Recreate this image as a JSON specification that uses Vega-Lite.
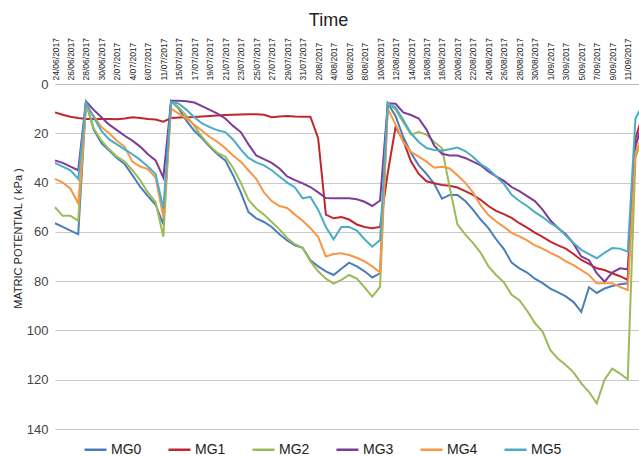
{
  "$schema": "https://vega.github.io/schema/vega-lite/v6.json",
  "width": 587,
  "height": 345,
  "autosize": {"type": "none"},
  "padding": {"left": 52, "top": 84, "right": 0, "bottom": 27},
  "background": "white",
  "config": {"view": {"stroke": null}, "font": "Liberation Sans"},
  "data": {"values": [
    {"date": "24/06/2017", "MG0": 56.5, "MG1": 11.5, "MG2": 50, "MG3": 31, "MG4": 38.5, "MG5": 32},
    {"date": "25/06/2017", "MG0": 58, "MG1": 12.5, "MG2": 53.5, "MG3": 32, "MG4": 40, "MG5": 33.5},
    {"date": "26/06/2017", "MG0": 59.5, "MG1": 13.3, "MG2": 53.5, "MG3": 33.5, "MG4": 42.5, "MG5": 35},
    {"date": "27/06/2017", "MG0": 61, "MG1": 13.8, "MG2": 55.5, "MG3": 35, "MG4": 48.5, "MG5": 38.5},
    {"date": "28/06/2017", "MG0": 7.6, "MG1": 14.2, "MG2": 7.6, "MG3": 7, "MG4": 9, "MG5": 7.5},
    {"date": "29/06/2017", "MG0": 18.5, "MG1": 14.2, "MG2": 18, "MG3": 10.5, "MG4": 13, "MG5": 13.5},
    {"date": "30/06/2017", "MG0": 24, "MG1": 14.2, "MG2": 23, "MG3": 13.5, "MG4": 17.5, "MG5": 19},
    {"date": "1/07/2017", "MG0": 27, "MG1": 14.2, "MG2": 26.5, "MG3": 16.5, "MG4": 20, "MG5": 22.5},
    {"date": "2/07/2017", "MG0": 30, "MG1": 14.3, "MG2": 29.5, "MG3": 18.7, "MG4": 23, "MG5": 24.5},
    {"date": "3/07/2017", "MG0": 32.5, "MG1": 14, "MG2": 31.5, "MG3": 21, "MG4": 25.5, "MG5": 26.5},
    {"date": "4/07/2017", "MG0": 37, "MG1": 13.5, "MG2": 35, "MG3": 23, "MG4": 31.5, "MG5": 28.5},
    {"date": "5/07/2017", "MG0": 41.7, "MG1": 13.8, "MG2": 39, "MG3": 25.4, "MG4": 33.5, "MG5": 30.8},
    {"date": "6/07/2017", "MG0": 45.5, "MG1": 14.2, "MG2": 44, "MG3": 28.5, "MG4": 34.5, "MG5": 33.5},
    {"date": "8/07/2017", "MG0": 49, "MG1": 14.4, "MG2": 48, "MG3": 31, "MG4": 38, "MG5": 36.5},
    {"date": "11/07/2017", "MG0": 57, "MG1": 15.3, "MG2": 62, "MG3": 38, "MG4": 54, "MG5": 50.5},
    {"date": "13/07/2017", "MG0": 7, "MG1": 13.8, "MG2": 7, "MG3": 6.8, "MG4": 10, "MG5": 7.2},
    {"date": "15/07/2017", "MG0": 10, "MG1": 13.6, "MG2": 9.5, "MG3": 6.8, "MG4": 12, "MG5": 8},
    {"date": "16/07/2017", "MG0": 15, "MG1": 13.5, "MG2": 13, "MG3": 7, "MG4": 14, "MG5": 10.5},
    {"date": "17/07/2017", "MG0": 19, "MG1": 13.4, "MG2": 17, "MG3": 7.5, "MG4": 16.5, "MG5": 13.5},
    {"date": "18/07/2017", "MG0": 22, "MG1": 13.2, "MG2": 21.5, "MG3": 9, "MG4": 19, "MG5": 16},
    {"date": "19/07/2017", "MG0": 25.5, "MG1": 13, "MG2": 25, "MG3": 10.5, "MG4": 21.5, "MG5": 17.5},
    {"date": "20/07/2017", "MG0": 28.5, "MG1": 12.8, "MG2": 28, "MG3": 12, "MG4": 23.5, "MG5": 18.8},
    {"date": "21/07/2017", "MG0": 31, "MG1": 12.6, "MG2": 29.5, "MG3": 14, "MG4": 26, "MG5": 19.5},
    {"date": "22/07/2017", "MG0": 37, "MG1": 12.5, "MG2": 34, "MG3": 17, "MG4": 29, "MG5": 22.5},
    {"date": "23/07/2017", "MG0": 44, "MG1": 12.4, "MG2": 40, "MG3": 19.5, "MG4": 31.5, "MG5": 26.5},
    {"date": "24/07/2017", "MG0": 52, "MG1": 12.3, "MG2": 47, "MG3": 24.5, "MG4": 35, "MG5": 30},
    {"date": "25/07/2017", "MG0": 54.5, "MG1": 12.3, "MG2": 50.5, "MG3": 29, "MG4": 38.5, "MG5": 31.8},
    {"date": "26/07/2017", "MG0": 56, "MG1": 12.5, "MG2": 53, "MG3": 30.5, "MG4": 44, "MG5": 33},
    {"date": "27/07/2017", "MG0": 58, "MG1": 13.5, "MG2": 56, "MG3": 32, "MG4": 47.5, "MG5": 35},
    {"date": "28/07/2017", "MG0": 61, "MG1": 13.2, "MG2": 59, "MG3": 34.3, "MG4": 49.5, "MG5": 37.5},
    {"date": "29/07/2017", "MG0": 63.5, "MG1": 13, "MG2": 62.5, "MG3": 37.5, "MG4": 50.3, "MG5": 40},
    {"date": "30/07/2017", "MG0": 65.5, "MG1": 13.2, "MG2": 65, "MG3": 39, "MG4": 53, "MG5": 42},
    {"date": "31/07/2017", "MG0": 66.5, "MG1": 13.3, "MG2": 66.5, "MG3": 40.3, "MG4": 55.5, "MG5": 46.4},
    {"date": "1/08/2017", "MG0": 71.5, "MG1": 13.3, "MG2": 72, "MG3": 41.8, "MG4": 58.5, "MG5": 45.8},
    {"date": "2/08/2017", "MG0": 74, "MG1": 22, "MG2": 76, "MG3": 44, "MG4": 62, "MG5": 51},
    {"date": "3/08/2017", "MG0": 76, "MG1": 53, "MG2": 79, "MG3": 46.3, "MG4": 70, "MG5": 58},
    {"date": "4/08/2017", "MG0": 77.5, "MG1": 54.5, "MG2": 81, "MG3": 46.4, "MG4": 69, "MG5": 63},
    {"date": "5/08/2017", "MG0": 75, "MG1": 54, "MG2": 79.5, "MG3": 46.4, "MG4": 68.7, "MG5": 58},
    {"date": "6/08/2017", "MG0": 72.5, "MG1": 55, "MG2": 77.5, "MG3": 46.4, "MG4": 69.4, "MG5": 58},
    {"date": "7/08/2017", "MG0": 74, "MG1": 57, "MG2": 79, "MG3": 46.8, "MG4": 70.5, "MG5": 59.5},
    {"date": "8/08/2017", "MG0": 76, "MG1": 58, "MG2": 82.5, "MG3": 47.8, "MG4": 72, "MG5": 63},
    {"date": "9/08/2017", "MG0": 78.5, "MG1": 58.5, "MG2": 86.3, "MG3": 49.5, "MG4": 74, "MG5": 66},
    {"date": "10/08/2017", "MG0": 76.8, "MG1": 58, "MG2": 82.3, "MG3": 47.3, "MG4": 76.5, "MG5": 63.3},
    {"date": "11/08/2017", "MG0": 7.8, "MG1": 36, "MG2": 7.8, "MG3": 7.8, "MG4": 10, "MG5": 7.8},
    {"date": "12/08/2017", "MG0": 13, "MG1": 17.5, "MG2": 10.3, "MG3": 8, "MG4": 16.5, "MG5": 9.5},
    {"date": "13/08/2017", "MG0": 21.5, "MG1": 23, "MG2": 15.5, "MG3": 11.5, "MG4": 23.5, "MG5": 14.6},
    {"date": "14/08/2017", "MG0": 28, "MG1": 31.5, "MG2": 20.5, "MG3": 12.6, "MG4": 27.5, "MG5": 20},
    {"date": "15/08/2017", "MG0": 33, "MG1": 36.5, "MG2": 19.5, "MG3": 14, "MG4": 29.5, "MG5": 23.5},
    {"date": "16/08/2017", "MG0": 36.5, "MG1": 39.5, "MG2": 20.5, "MG3": 18.5, "MG4": 31.5, "MG5": 26},
    {"date": "17/08/2017", "MG0": 40.5, "MG1": 40.3, "MG2": 23.5, "MG3": 25, "MG4": 34, "MG5": 26.8},
    {"date": "18/08/2017", "MG0": 46.5, "MG1": 41, "MG2": 26, "MG3": 28.3, "MG4": 33.6, "MG5": 27},
    {"date": "19/08/2017", "MG0": 45, "MG1": 41.3, "MG2": 42, "MG3": 29, "MG4": 34.3, "MG5": 26.5},
    {"date": "20/08/2017", "MG0": 45, "MG1": 42, "MG2": 57, "MG3": 29, "MG4": 37, "MG5": 25.8},
    {"date": "21/08/2017", "MG0": 47.5, "MG1": 43.5, "MG2": 61, "MG3": 30, "MG4": 40, "MG5": 27.2},
    {"date": "22/08/2017", "MG0": 51, "MG1": 45, "MG2": 64.5, "MG3": 31.5, "MG4": 44, "MG5": 29.5},
    {"date": "23/08/2017", "MG0": 55, "MG1": 47, "MG2": 68.5, "MG3": 33, "MG4": 49.3, "MG5": 32.5},
    {"date": "24/08/2017", "MG0": 58.5, "MG1": 49.5, "MG2": 74, "MG3": 35.5, "MG4": 53.2, "MG5": 34.5},
    {"date": "25/08/2017", "MG0": 63, "MG1": 51.5, "MG2": 77.5, "MG3": 37.5, "MG4": 55.8, "MG5": 37.5},
    {"date": "26/08/2017", "MG0": 67, "MG1": 52.8, "MG2": 80.5, "MG3": 39.3, "MG4": 58, "MG5": 40.5},
    {"date": "27/08/2017", "MG0": 72.5, "MG1": 54.3, "MG2": 85.5, "MG3": 41.8, "MG4": 60.4, "MG5": 45},
    {"date": "28/08/2017", "MG0": 74.8, "MG1": 56.5, "MG2": 87.7, "MG3": 43.5, "MG4": 61.8, "MG5": 47.5},
    {"date": "29/08/2017", "MG0": 76.5, "MG1": 58.3, "MG2": 92, "MG3": 45.5, "MG4": 63.5, "MG5": 49.5},
    {"date": "30/08/2017", "MG0": 79, "MG1": 60.3, "MG2": 97, "MG3": 47.5, "MG4": 65.5, "MG5": 52},
    {"date": "31/08/2017", "MG0": 80.8, "MG1": 62, "MG2": 100.5, "MG3": 51, "MG4": 66.8, "MG5": 54},
    {"date": "1/09/2017", "MG0": 83, "MG1": 64, "MG2": 108, "MG3": 55.3, "MG4": 68.5, "MG5": 56.5},
    {"date": "2/09/2017", "MG0": 84.6, "MG1": 65.5, "MG2": 111.5, "MG3": 58.5, "MG4": 70, "MG5": 58.3},
    {"date": "3/09/2017", "MG0": 86.2, "MG1": 66.8, "MG2": 114, "MG3": 61, "MG4": 72, "MG5": 61.5},
    {"date": "4/09/2017", "MG0": 88.5, "MG1": 69, "MG2": 117, "MG3": 64.8, "MG4": 73.5, "MG5": 64.5},
    {"date": "5/09/2017", "MG0": 92.5, "MG1": 71.4, "MG2": 121.5, "MG3": 70, "MG4": 75.5, "MG5": 67.3},
    {"date": "6/09/2017", "MG0": 82.5, "MG1": 73, "MG2": 125, "MG3": 71.5, "MG4": 77.5, "MG5": 69},
    {"date": "7/09/2017", "MG0": 84.8, "MG1": 74.8, "MG2": 129.6, "MG3": 76.8, "MG4": 80.9, "MG5": 70.7},
    {"date": "8/09/2017", "MG0": 83, "MG1": 75.5, "MG2": 120, "MG3": 80.2, "MG4": 80.9, "MG5": 68.5},
    {"date": "9/09/2017", "MG0": 82, "MG1": 76.8, "MG2": 115.5, "MG3": 76.5, "MG4": 80.9, "MG5": 66.6},
    {"date": "10/09/2017", "MG0": 81.3, "MG1": 78, "MG2": 117.5, "MG3": 74.8, "MG4": 82.3, "MG5": 66.8},
    {"date": "11/09/2017", "MG0": 80.9, "MG1": 79.5, "MG2": 119.8, "MG3": 75.2, "MG4": 83.6, "MG5": 68},
    {"date": "12/09/2017", "MG0": 25, "MG1": 22, "MG2": 30, "MG3": 25, "MG4": 28, "MG5": 14},
    {"date": "13/09/2017", "MG0": 15, "MG1": 12, "MG2": 20, "MG3": 15, "MG4": 20, "MG5": 8}
  ]},
  "transform": [{"fold": ["MG0", "MG1", "MG2", "MG3", "MG4", "MG5"], "as": ["series", "value"]}],
  "mark": {"type": "line", "strokeWidth": 2, "interpolate": "linear"},
  "encoding": {
    "x": {
      "field": "date", "type": "ordinal", "sort": null,
      "scale": {"type": "point", "padding": 0, "range": [3, 591.2]},
      "axis": {
        "orient": "top",
        "values": ["24/06/2017","26/06/2017","28/06/2017","30/06/2017","2/07/2017","4/07/2017","6/07/2017","11/07/2017","15/07/2017","17/07/2017","19/07/2017","21/07/2017","23/07/2017","25/07/2017","27/07/2017","29/07/2017","31/07/2017","2/08/2017","4/08/2017","6/08/2017","8/08/2017","10/08/2017","12/08/2017","14/08/2017","16/08/2017","18/08/2017","20/08/2017","22/08/2017","24/08/2017","26/08/2017","28/08/2017","30/08/2017","1/09/2017","3/09/2017","5/09/2017","7/09/2017","9/09/2017","11/09/2017","13/09/2017"],
        "labelAngle": 270, "labelAlign": "left", "labelBaseline": "middle",
        "labelFontSize": 8.5, "labelColor": "#222222", "labelPadding": 4,
        "labelOverlap": false, "labelBound": false, "labelFlush": false,
        "ticks": false, "grid": false, "domain": true, "domainColor": "#bdbdbd", "domainWidth": 1.2,
        "title": "Time", "titleFontSize": 18, "titleFontWeight": "normal", "titleColor": "#222222",
        "titleX": 276, "titleY": -64, "titleAlign": "center", "titleBaseline": "middle"
      }
    },
    "y": {
      "field": "value", "type": "quantitative",
      "scale": {"domain": [0, 140], "reverse": true, "nice": false, "zero": true},
      "axis": {
        "values": [0, 20, 40, 60, 80, 100, 120, 140],
        "grid": true, "gridColor": "#c9c9c9", "gridWidth": 1.2,
        "domain": false, "ticks": false,
        "labelFontSize": 13, "labelColor": "#444444", "labelPadding": 4,
        "title": "MATRIC POTENTIAL ( kPa )", "titleFontSize": 11, "titleFontWeight": "normal", "titleColor": "#222222",
        "titleAngle": 270, "titleX": -34, "titleY": 154, "titleAlign": "center", "titleBaseline": "middle"
      }
    },
    "color": {
      "field": "series", "type": "nominal",
      "scale": {"domain": ["MG0", "MG1", "MG2", "MG3", "MG4", "MG5"], "range": ["#4a7ebb", "#c0272d", "#9bbb59", "#7d3c98", "#f79646", "#4bacc6"]},
      "legend": {
        "orient": "none", "legendX": 31, "legendY": 353, "direction": "horizontal", "columns": 6,
        "title": null, "symbolType": "stroke", "symbolSize": 484, "symbolStrokeWidth": 2.5,
        "labelFontSize": 14, "labelColor": "#222222", "labelOffset": 3, "columnPadding": 21, "padding": 0
      }
    }
  }
}
